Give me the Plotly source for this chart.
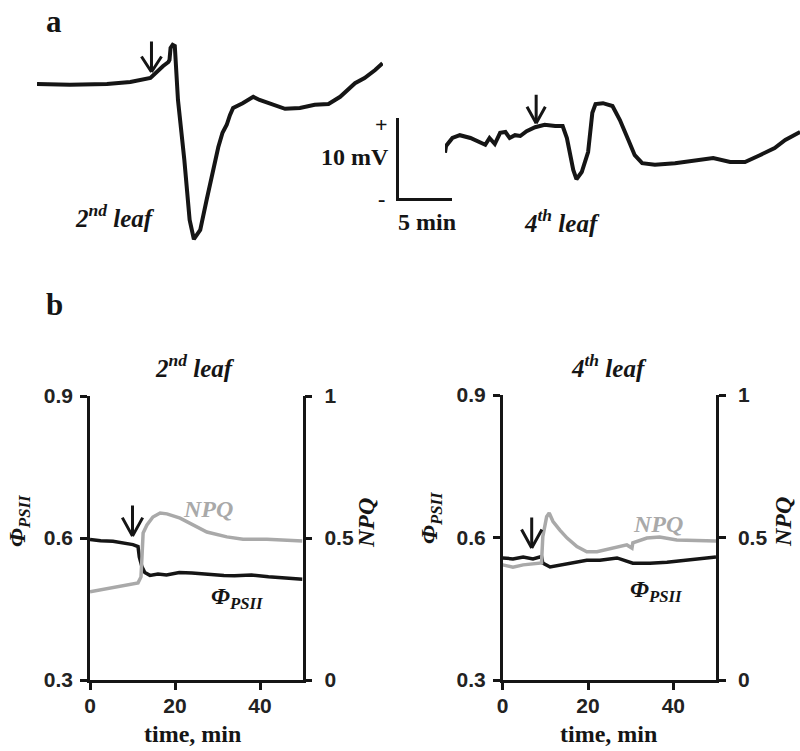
import plotly.graph_objects as go

# ---------------- Panel a: electrical potential traces (min, mV rel. to baseline)
a2_time = [0, 3.1, 6.6, 8.8, 10.7, 11.1, 11.6, 11.9, 12.4, 12.5, 12.6, 12.8, 13.0, 13.1,
           13.3, 13.9, 14.4, 14.8, 15.4, 16.0, 16.6, 17.1, 17.5, 17.9, 18.2, 18.5, 19.4,
           20.4, 21.0, 22.0, 23.4, 24.8, 26.2, 27.5, 28.6, 30.0, 30.9, 31.9, 32.6]
a2_mv = [0, -0.1, 0, 0.25, 0.75, 1.25, 2.0, 2.25, 2.75, 3.0, 4.5, 4.9, 4.75, 3.0,
         -2.0, -9.5, -17.0, -19.4, -18.25, -14.5, -10.75, -7.9, -6.1, -5.1, -3.9, -3.0, -2.4,
         -1.6, -2.0, -2.5, -3.1, -3.0, -2.6, -2.5, -1.6, 0.1, 0.75, 1.75, 2.6]

a4_time = [0, 0.1, 0.7, 1.4, 2.4, 3.3, 3.8, 4.2, 4.7, 5.2, 5.7, 6.1, 6.6, 7.1, 7.7, 8.5,
           9.4, 10.4, 11.1, 11.5, 11.8, 12.1, 12.4, 12.9, 13.5, 13.9, 14.2, 14.9, 15.8,
           16.5, 17.3, 17.9, 18.6, 19.8, 21.7, 24.1, 25.3, 26.9, 28.3, 29.7, 31.1, 32.1,
           33.0, 33.5]
a4_mv = [-1.6, -0.75, 0.25, 0.6, 0.25, -0.25, -0.6, 0.25, -0.5, 0.9, 1.0, 0.25, 0.6, 0.5,
         1.1, 1.6, 1.9, 1.75, 1.75, 0.25, -1.9, -3.75, -4.9, -4.0, -1.5, 3.4, 4.5, 4.6,
         4.25, 2.5, 0, -1.9, -2.9, -3.1, -2.9, -2.5, -2.25, -2.75, -2.75, -1.9, -1.0, 0,
         0.6, 1.0]

# ---------------- Panel b: 2nd leaf
b2_phi_t = [0, 2.5, 5.4, 8.0, 10.1, 11.3, 11.6, 12.2, 12.9, 14.1, 16.0, 18.0, 21.0, 24.0,
            26.5, 29.0, 31.5, 34.0, 38.0, 42.0, 45.0, 48.0, 50.0]
b2_phi = [0.597, 0.594, 0.593, 0.589, 0.586, 0.582, 0.560, 0.540, 0.527, 0.521, 0.524,
          0.522, 0.527, 0.526, 0.524, 0.523, 0.521, 0.520, 0.522, 0.518, 0.516, 0.513, 0.513]
b2_npq_t = [0, 4.7, 8.7, 11.3, 12.0, 12.2, 12.5, 13.4, 14.8, 16.5, 18.1, 21.2, 24.2,
            27.5, 32.2, 36.0, 41.6, 46.4, 50.0]
b2_npq = [0.311, 0.324, 0.335, 0.342, 0.363, 0.468, 0.518, 0.546, 0.574, 0.588, 0.585,
          0.570, 0.546, 0.521, 0.504, 0.496, 0.496, 0.493, 0.489]

# ---------------- Panel b: 4th leaf
b4_phi_t = [0, 2.4, 4.8, 7.1, 9.1, 9.4, 11.1, 13.4, 16.5, 19.7, 22.8, 26.8, 30.5, 34.5,
            38.5, 42.3, 46.3, 50.0]
b4_phi = [0.557, 0.555, 0.559, 0.555, 0.560, 0.546, 0.538, 0.542, 0.548, 0.552, 0.552,
          0.557, 0.546, 0.546, 0.548, 0.552, 0.555, 0.559]
b4_npq_t = [0, 2.4, 4.8, 7.1, 9.1, 9.4, 10.3, 10.9, 11.8, 13.4, 15.1, 17.4, 19.7, 22.1,
            25.1, 29.1, 30.3, 30.5, 33.8, 36.8, 40.8, 44.6, 50.0]
b4_npq = [0.404, 0.396, 0.404, 0.408, 0.411, 0.503, 0.573, 0.586, 0.556, 0.526, 0.498,
          0.468, 0.450, 0.450, 0.460, 0.474, 0.463, 0.481, 0.498, 0.502, 0.491, 0.491, 0.488]

# stimulus (arrow) times and levels
a2_stim = (10.8, 1.5)
a4_stim = (8.6, 2.1)
b2_stim = (10.0, 0.604)
b4_stim = (6.8, 0.578)

x_ticks = [0, 20, 40]
phi_ticks = [0.3, 0.6, 0.9]
phi_ticktext = ["0.3", "0.6", "0.9"]
npq_ticks = [0, 0.5, 1]
npq_ticktext = ["0", "0.5", "1"]

# scale bar values
SCALE_MIN = 5
SCALE_MV = 10

W, H = 800, 751
PX_PER_MIN = 10.6
PX_PER_MV = 8.0


def fx(p):
    return p / W


def fy(p):
    return 1 - p / H


BLACK = "#151515"
GREY = "#a9a9a9"
SERIF = "Liberation Serif"
SANS = "Liberation Sans"

fig = go.Figure()

# panel a traces
fig.add_trace(go.Scatter(x=a2_time, y=a2_mv, mode="lines", xaxis="x3", yaxis="y5",
                         line=dict(color=BLACK, width=4)))
fig.add_trace(go.Scatter(x=a4_time, y=a4_mv, mode="lines", xaxis="x4", yaxis="y6",
                         line=dict(color=BLACK, width=4)))
# empty trace so that the scale-bar axes are drawn
fig.add_trace(go.Scatter(x=[None], y=[None], mode="lines", xaxis="x5", yaxis="y7",
                         hoverinfo="skip"))

# panel b traces
fig.add_trace(go.Scatter(x=b2_phi_t, y=b2_phi, mode="lines", xaxis="x", yaxis="y",
                         line=dict(color=BLACK, width=3.5)))
fig.add_trace(go.Scatter(x=b2_npq_t, y=b2_npq, mode="lines", xaxis="x", yaxis="y2",
                         line=dict(color=GREY, width=3.5)))
fig.add_trace(go.Scatter(x=b4_phi_t, y=b4_phi, mode="lines", xaxis="x2", yaxis="y3",
                         line=dict(color=BLACK, width=3.5)))
fig.add_trace(go.Scatter(x=b4_npq_t, y=b4_npq, mode="lines", xaxis="x2", yaxis="y4",
                         line=dict(color=GREY, width=3.5)))

tickfont = dict(family=SANS, size=21, color="#222", weight="bold")
axline = dict(showline=True, linecolor=BLACK, linewidth=2.5, showgrid=False,
              zeroline=False, ticks="outside", ticklen=7, tickwidth=2.5,
              tickcolor=BLACK, tickfont=tickfont, automargin=False)

hidden = dict(visible=False, showgrid=False, zeroline=False, automargin=False)

# panel a axes
a_top, a_bot = 40, 245
fig.update_layout(
    xaxis3=dict(domain=[fx(37), fx(383)], range=[0, (383 - 37) / PX_PER_MIN],
                anchor="y5", **hidden),
    yaxis5=dict(domain=[fy(a_bot), fy(a_top)],
                range=[(84 - a_bot) / PX_PER_MV, (84 - a_top) / PX_PER_MV],
                anchor="x3", **hidden),
    xaxis4=dict(domain=[fx(445), 1.0], range=[0, (800 - 445) / PX_PER_MIN],
                anchor="y6", **hidden),
    yaxis6=dict(domain=[fy(a_bot), fy(a_top)],
                range=[(140 - a_bot) / PX_PER_MV, (140 - a_top) / PX_PER_MV],
                anchor="x4", **hidden),
    # scale bar drawn as axis lines
    xaxis5=dict(domain=[fx(399), fx(399 + SCALE_MIN * PX_PER_MIN)], range=[0, SCALE_MIN],
                anchor="y7", showline=True, linecolor=BLACK, linewidth=2.5,
                showticklabels=False, ticks="", showgrid=False, zeroline=False,
                automargin=False),
    yaxis7=dict(domain=[fy(198), fy(198 - SCALE_MV * PX_PER_MV)], range=[0, SCALE_MV],
                anchor="x5", showline=True, linecolor=BLACK, linewidth=2.5,
                showticklabels=False, ticks="", showgrid=False, zeroline=False,
                automargin=False),
)

# panel b axes
fig.update_layout(
    xaxis=dict(domain=[fx(90), fx(302.5)], range=[0, 50], tickvals=x_ticks,
               anchor="y", ticklabelstandoff=-2, **axline),
    yaxis=dict(domain=[fy(680), fy(396)], range=[0.3, 0.9], tickvals=phi_ticks,
               ticktext=phi_ticktext, anchor="x", ticklabelstandoff=3, **axline),
    yaxis2=dict(range=[0, 1], tickvals=npq_ticks, ticktext=npq_ticktext,
                overlaying="y", side="right", anchor="x", ticklabelstandoff=8, **axline),
    xaxis2=dict(domain=[fx(502.7), fx(716)], range=[0, 50], tickvals=x_ticks,
                anchor="y3", ticklabelstandoff=-2, **axline),
    yaxis3=dict(domain=[fy(680), fy(395)], range=[0.3, 0.9], tickvals=phi_ticks,
                ticktext=phi_ticktext, anchor="x2", ticklabelstandoff=3, **axline),
    yaxis4=dict(range=[0, 1], tickvals=npq_ticks, ticktext=npq_ticktext,
                overlaying="y3", side="right", anchor="x2", ticklabelstandoff=8, **axline),
)

ann = []


def txt(x, y, text, size=24, color=BLACK, angle=0, family=SERIF, xanchor="center"):
    ann.append(dict(x=fx(x), y=fy(y), xref="paper", yref="paper", text=text,
                    showarrow=False, textangle=angle, xanchor=xanchor, yanchor="middle",
                    font=dict(family=family, size=size, color=color)))


# panel letters
txt(54, 21, "<b>a</b>", size=31)
txt(54, 304, "<b>b</b>", size=31)
# panel a labels
txt(115, 216, "<b><i>2<sup>nd</sup> leaf</i></b>", size=25)
txt(562, 221, "<b><i>4<sup>th</sup> leaf</i></b>", size=25)
txt(381, 125, "<b>+</b>", size=22)
txt(355, 157, "<b>10 mV</b>", size=24)
txt(381, 199, "<b>-</b>", size=22)
txt(427, 222, "<b>5 min</b>", size=24)
# panel b titles
txt(195, 366, "<b><i>2<sup>nd</sup> leaf</i></b>", size=25)
txt(609, 366, "<b><i>4<sup>th</sup> leaf</i></b>", size=25)
txt(192, 734, "<b>time, min</b>", size=24)
txt(608, 734, "<b>time, min</b>", size=24)
# axis titles
txt(19, 521, "<b><i>Φ<sub>PSII</sub></i></b>", size=24, angle=-90)
txt(366, 523, "<b><i>NPQ</i></b>", size=24, angle=-90)
txt(431, 518, "<b><i>Φ<sub>PSII</sub></i></b>", size=24, angle=-90)
txt(783, 522, "<b><i>NPQ</i></b>", size=24, angle=-90)
# inline labels
txt(208, 509, "<b><i>NPQ</i></b>", size=24, color=GREY)
txt(237, 598, "<b><i>Φ<sub>PSII</sub></i></b>", size=24)
txt(658, 524, "<b><i>NPQ</i></b>", size=24, color=GREY)
txt(656, 591, "<b><i>Φ<sub>PSII</sub></i></b>", size=24)


def arrow(stim, xr, yr, shaft, wing_w, wing_h):
    # open "V" arrow pointing down at the stimulus moment (pixel offsets are styling)
    for ax, ay in [(0, -shaft), (-wing_w, -wing_h), (wing_w, -wing_h)]:
        ann.append(dict(x=stim[0], y=stim[1], xref=xr, yref=yr, ax=ax, ay=ay,
                        text="", showarrow=True, arrowhead=0, arrowwidth=3,
                        arrowcolor=BLACK, standoff=0, startstandoff=0))


arrow(a2_stim, "x3", "y5", 32, 11, 17)
arrow(a4_stim, "x4", "y6", 30, 10, 18)
arrow(b2_stim, "x", "y", 32, 11, 20)
arrow(b4_stim, "x2", "y3", 32, 11, 20)

fig.update_layout(
    annotations=ann,
    width=W, height=H,
    margin=dict(l=0, r=0, t=0, b=0),
    paper_bgcolor="white", plot_bgcolor="rgba(0,0,0,0)",
    showlegend=False,
    template="none",
)

fig.write_html("out.html", config={"displayModeBar": False},
               post_script="document.body.style.margin='0';")
